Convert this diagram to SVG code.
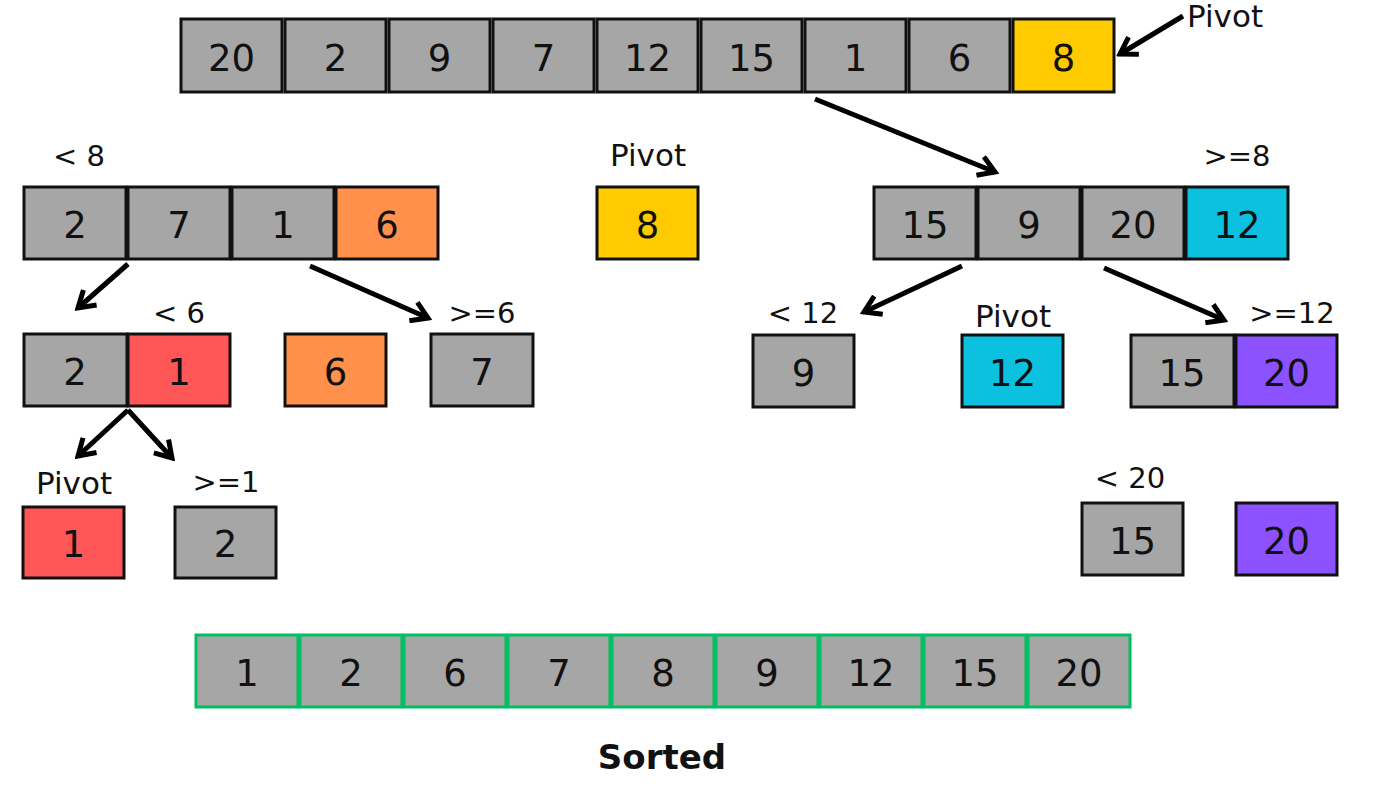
<svg xmlns="http://www.w3.org/2000/svg" width="1400" height="788" viewBox="0 0 1400 788">
<defs>
<style>
.c{stroke:#111;stroke-width:3}
.g{fill:#a6a6a6}
.y{fill:#ffcb00}
.o{fill:#ff914d}
.r{fill:#ff5757}
.b{fill:#0cc0df}
.p{fill:#8c52ff}
.s{fill:#a6a6a6;stroke:#00bf63;stroke-width:3}
.n{font-family:"DejaVu Sans",sans-serif;font-size:37px;fill:#111;text-anchor:middle}
.l{font-family:"DejaVu Sans",sans-serif;font-size:29px;fill:#111;text-anchor:middle}
.pv{font-family:"DejaVu Sans",sans-serif;font-size:31px;fill:#111;text-anchor:middle}
.t{font-family:"DejaVu Sans",sans-serif;font-size:34px;font-weight:bold;fill:#111;text-anchor:middle}
.a{stroke:#000;stroke-width:5;fill:none;marker-end:url(#ah)}
</style>
<marker id="ah" viewBox="0 0 24 24" refX="20" refY="12" markerWidth="24" markerHeight="24" markerUnits="userSpaceOnUse" orient="auto">
<path d="M4,2 L20,12 L4,22" fill="none" stroke="#000" stroke-width="5"/>
</marker>
</defs>
<rect width="1400" height="788" fill="#fff"/>

<g id="top-array">
<rect class="c g" x="181" y="19" width="101" height="73"/><text class="n" x="231.5" y="71">20</text>
<rect class="c g" x="285" y="19" width="101" height="73"/><text class="n" x="335.5" y="71">2</text>
<rect class="c g" x="389" y="19" width="101" height="73"/><text class="n" x="439.5" y="71">9</text>
<rect class="c g" x="493" y="19" width="101" height="73"/><text class="n" x="543.5" y="71">7</text>
<rect class="c g" x="597" y="19" width="101" height="73"/><text class="n" x="647.5" y="71">12</text>
<rect class="c g" x="701" y="19" width="101" height="73"/><text class="n" x="751.5" y="71">15</text>
<rect class="c g" x="805" y="19" width="101" height="73"/><text class="n" x="855.5" y="71">1</text>
<rect class="c g" x="909" y="19" width="101" height="73"/><text class="n" x="959.5" y="71">6</text>
<rect class="c y" x="1013" y="19" width="101" height="73"/><text class="n" x="1063.5" y="71">8</text>
</g>
<g id="label-pivot-top"><text class="pv" x="1225" y="27">Pivot</text></g>

<g id="left-array">
<text class="l" x="79" y="166">&lt; 8</text>
<rect class="c g" x="24" y="187" width="102" height="72"/><text class="n" x="75" y="238">2</text>
<rect class="c g" x="128" y="187" width="102" height="72"/><text class="n" x="179" y="238">7</text>
<rect class="c g" x="232" y="187" width="102" height="72"/><text class="n" x="283" y="238">1</text>
<rect class="c o" x="336" y="187" width="102" height="72"/><text class="n" x="387" y="238">6</text>
</g>

<g id="pivot-8">
<text class="pv" x="648" y="166">Pivot</text>
<rect class="c y" x="597" y="187" width="101" height="72"/><text class="n" x="647.5" y="238">8</text>
</g>

<g id="right-array">
<text class="l" x="1237" y="166">&gt;=8</text>
<rect class="c g" x="874" y="187" width="102" height="72"/><text class="n" x="925" y="238">15</text>
<rect class="c g" x="978" y="187" width="102" height="72"/><text class="n" x="1029" y="238">9</text>
<rect class="c g" x="1082" y="187" width="102" height="72"/><text class="n" x="1133" y="238">20</text>
<rect class="c b" x="1186" y="187" width="102" height="72"/><text class="n" x="1237" y="238">12</text>
</g>

<g id="left-less6">
<text class="l" x="179" y="323">&lt; 6</text>
<rect class="c g" x="24" y="334" width="103" height="72"/><text class="n" x="75" y="385">2</text>
<rect class="c r" x="128" y="334" width="102" height="72"/><text class="n" x="179" y="385">1</text>
</g>
<g id="pivot-6">
<rect class="c o" x="285" y="334" width="101" height="72"/><text class="n" x="335.5" y="385">6</text>
</g>
<g id="ge6">
<text class="l" x="482" y="323">&gt;=6</text>
<rect class="c g" x="431" y="334" width="102" height="72"/><text class="n" x="482" y="385">7</text>
</g>

<g id="less12">
<text class="l" x="803" y="323">&lt; 12</text>
<rect class="c g" x="753" y="335" width="101" height="72"/><text class="n" x="803.5" y="386">9</text>
</g>
<g id="pivot-12">
<text class="pv" x="1013" y="327">Pivot</text>
<rect class="c b" x="962" y="335" width="101" height="72"/><text class="n" x="1012.5" y="386">12</text>
</g>
<g id="ge12">
<text class="l" x="1292" y="323">&gt;=12</text>
<rect class="c g" x="1131" y="335" width="103" height="72"/><text class="n" x="1182" y="386">15</text>
<rect class="c p" x="1236" y="335" width="101" height="72"/><text class="n" x="1286.5" y="386">20</text>
</g>

<g id="pivot-1">
<text class="pv" x="74" y="494">Pivot</text>
<rect class="c r" x="23" y="507" width="101" height="71"/><text class="n" x="73.5" y="557">1</text>
</g>
<g id="ge1">
<text class="l" x="226" y="492">&gt;=1</text>
<rect class="c g" x="175" y="507" width="101" height="71"/><text class="n" x="225.5" y="557">2</text>
</g>

<g id="less20">
<text class="l" x="1130" y="488">&lt; 20</text>
<rect class="c g" x="1082" y="503" width="101" height="72"/><text class="n" x="1132.5" y="554">15</text>
</g>
<g id="pivot-20">
<rect class="c p" x="1236" y="503" width="101" height="72"/><text class="n" x="1286.5" y="554">20</text>
</g>

<g id="sorted-array">
<rect class="s" x="196" y="635" width="102" height="72"/><text class="n" x="247" y="686">1</text>
<rect class="s" x="300" y="635" width="102" height="72"/><text class="n" x="351" y="686">2</text>
<rect class="s" x="404" y="635" width="102" height="72"/><text class="n" x="455" y="686">6</text>
<rect class="s" x="508" y="635" width="102" height="72"/><text class="n" x="559" y="686">7</text>
<rect class="s" x="612" y="635" width="102" height="72"/><text class="n" x="663" y="686">8</text>
<rect class="s" x="716" y="635" width="102" height="72"/><text class="n" x="767" y="686">9</text>
<rect class="s" x="820" y="635" width="102" height="72"/><text class="n" x="871" y="686">12</text>
<rect class="s" x="924" y="635" width="102" height="72"/><text class="n" x="975" y="686">15</text>
<rect class="s" x="1028" y="635" width="102" height="72"/><text class="n" x="1079" y="686">20</text>
</g>
<g id="label-sorted"><text class="t" x="662" y="769">Sorted</text></g>

<g id="connectors">
<line class="a" x1="1183" y1="16" x2="1120" y2="54"/>
<line class="a" x1="815" y1="99" x2="995" y2="172"/>
<line class="a" x1="128" y1="264" x2="78" y2="308"/>
<line class="a" x1="310" y1="266" x2="428" y2="318"/>
<line class="a" x1="962" y1="266" x2="864" y2="312"/>
<line class="a" x1="1104" y1="268" x2="1224" y2="320"/>
<line class="a" x1="128" y1="410" x2="78" y2="456"/>
<line class="a" x1="128" y1="410" x2="172" y2="458"/>
</g>
</svg>
